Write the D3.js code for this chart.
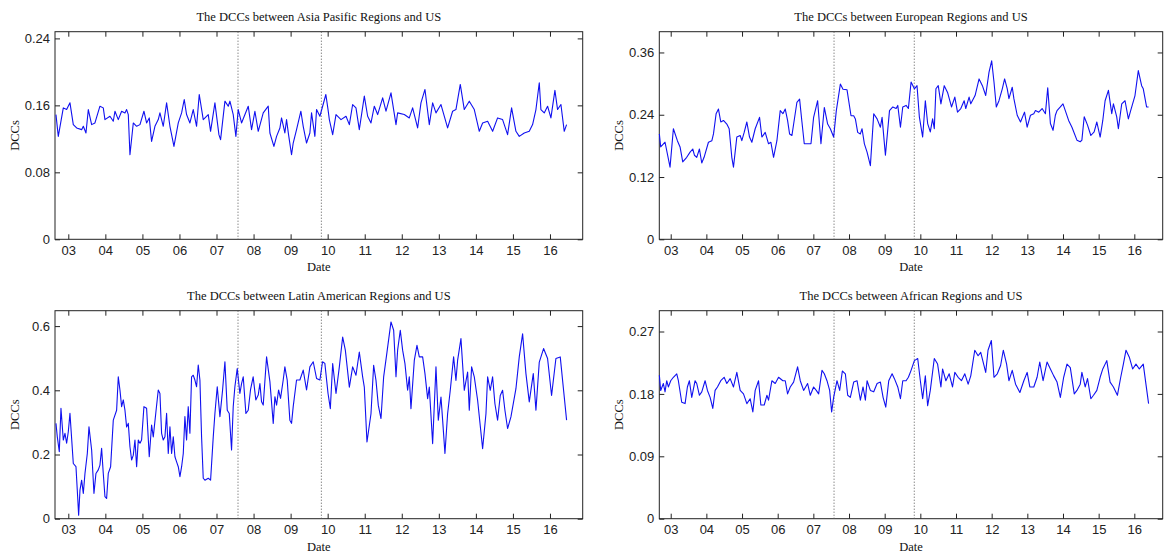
<!DOCTYPE html>
<html>
<head>
<meta charset="utf-8">
<title>DCCs between regions and US</title>
<style>
    body { margin: 0; background: white; }
    .frame { fill: none; stroke: #222; stroke-width: 1px; }
    .tick line { stroke: #222; stroke-width: 1px; }
    .tick text { font-family: "Liberation Sans", Arial, sans-serif; font-size: 13px; fill: #222; }
    .series { fill: none; stroke: #1010f0; stroke-width: 1.1px; stroke-linejoin: round; }
    .event { stroke: #555; stroke-width: 1px; stroke-dasharray: 1, 2; }
    .title, .axisLabel { font-family: "Liberation Serif", "Times New Roman", serif; font-size: 12.5px; fill: #111; text-anchor: middle; }
</style>
</head>
<body>
<script src="https://cdn.jsdelivr.net/npm/d3@7/dist/d3.min.js"></script>
<script>

    // shared axis data
    const xTicks = [3, 4, 5, 6, 7, 8, 9, 10, 11, 12, 13, 14, 15, 16];
    const xTickLabels = ["03", "04", "05", "06", "07", "08", "09", "10", "11", "12", "13", "14", "15", "16"];
    const eventDates = [7.58, 9.83];

    // Asia Pacific
    const asiaYears = [2.667, 2.730, 2.865, 2.955, 3.045, 3.135, 3.225, 3.360, 3.405, 3.477, 3.540, 3.630, 3.719, 3.854, 3.944, 3.989,
        4.124, 4.214, 4.259, 4.349, 4.439, 4.529, 4.574, 4.619, 4.664, 4.754, 4.844, 4.934, 5.041, 5.113, 5.185, 5.248, 5.338, 5.428,
        5.473, 5.563, 5.653, 5.743, 5.851, 5.968, 6.058, 6.129, 6.192, 6.282, 6.372, 6.462, 6.534, 6.642, 6.777, 6.840, 6.957, 7.065,
        7.110, 7.227, 7.317, 7.362, 7.451, 7.523, 7.586, 7.676, 7.856, 7.946, 8.036, 8.126, 8.261, 8.396, 8.441, 8.549, 8.621, 8.711,
        8.755, 8.845, 8.890, 8.944, 9.025, 9.070, 9.160, 9.277, 9.340, 9.430, 9.520, 9.565, 9.655, 9.700, 9.790, 9.951, 10.010,
        10.045, 10.135, 10.225, 10.360, 10.495, 10.585, 10.674, 10.764, 10.854, 10.989, 11.079, 11.169, 11.259, 11.349, 11.484, 11.574,
        11.709, 11.844, 11.888, 12.068, 12.203, 12.293, 12.428, 12.518, 12.626, 12.743, 12.833, 12.923, 13.058, 13.237, 13.372, 13.462,
        13.579, 13.687, 13.822, 13.957, 14.092, 14.182, 14.317, 14.452, 14.586, 14.721, 14.856, 14.964, 15.081, 15.171, 15.306, 15.441,
        15.531, 15.621, 15.711, 15.755, 15.845, 15.935, 16.025, 16.133, 16.205, 16.295, 16.385, 16.448];
    const asiaValues = [0.149, 0.123, 0.157, 0.155, 0.163, 0.137, 0.133, 0.131, 0.135, 0.127, 0.155, 0.137, 0.139, 0.159, 0.157, 0.143,
        0.147, 0.141, 0.153, 0.143, 0.153, 0.151, 0.155, 0.149, 0.101, 0.139, 0.135, 0.137, 0.153, 0.139, 0.145, 0.117, 0.135, 0.143,
        0.151, 0.135, 0.163, 0.135, 0.111, 0.139, 0.151, 0.167, 0.149, 0.139, 0.155, 0.135, 0.173, 0.143, 0.149, 0.129, 0.163, 0.125,
        0.119, 0.165, 0.159, 0.165, 0.149, 0.123, 0.155, 0.139, 0.159, 0.131, 0.153, 0.129, 0.151, 0.159, 0.127, 0.111, 0.123, 0.133,
        0.145, 0.127, 0.143, 0.125, 0.101, 0.115, 0.131, 0.153, 0.135, 0.115, 0.127, 0.151, 0.123, 0.155, 0.147, 0.173, 0.155,
        0.143, 0.125, 0.149, 0.143, 0.147, 0.137, 0.161, 0.157, 0.131, 0.171, 0.147, 0.139, 0.159, 0.149, 0.169, 0.153,
        0.175, 0.137, 0.151, 0.149, 0.145, 0.157, 0.133, 0.163, 0.179, 0.137, 0.163, 0.151, 0.161, 0.133, 0.153, 0.155,
        0.185, 0.155, 0.165, 0.155, 0.129, 0.139, 0.141, 0.129, 0.145, 0.143, 0.125, 0.157, 0.129, 0.123, 0.127, 0.129,
        0.137, 0.155, 0.187, 0.155, 0.151, 0.159, 0.145, 0.178, 0.155, 0.161, 0.129, 0.137];
    const asiaYTicks = [0, 0.08, 0.16, 0.24];
    const asiaYLabels = ["0", "0.08", "0.16", "0.24"];

    // European
    const europeYears = [2.682, 2.719, 2.841, 2.981, 3.075, 3.187, 3.262, 3.337, 3.449, 3.543, 3.618, 3.665, 3.730, 3.805, 3.871, 3.936,
        4.058, 4.154, 4.199, 4.273, 4.339, 4.404, 4.479, 4.573, 4.639, 4.713, 4.760, 4.854, 4.948, 4.994, 5.060, 5.135, 5.210, 5.275,
        5.369, 5.491, 5.556, 5.650, 5.743, 5.809, 5.884, 5.978, 6.071, 6.146, 6.212, 6.277, 6.333, 6.399, 6.539, 6.614, 6.680, 6.745,
        6.867, 6.933, 7.007, 7.120, 7.213, 7.307, 7.401, 7.476, 7.569, 7.644, 7.757, 7.831, 7.944, 8.056, 8.131, 8.178, 8.243, 8.318,
        8.365, 8.431, 8.506, 8.599, 8.693, 8.787, 8.880, 8.927, 9.021,
        9.135, 9.228, 9.321, 9.367, 9.442, 9.507, 9.600, 9.665, 9.740, 9.833, 9.907, 9.972, 10.065, 10.140, 10.205, 10.279, 10.344,
        10.391, 10.437, 10.502, 10.577, 10.670, 10.763, 10.874, 10.967, 11.042, 11.135, 11.228, 11.274, 11.367, 11.414, 11.535, 11.647,
        11.740, 11.833, 11.926, 12.000, 12.065, 12.130, 12.205, 12.298, 12.363, 12.437, 12.484, 12.577, 12.623, 12.716, 12.809, 12.921,
        12.995, 13.088, 13.181, 13.228, 13.321, 13.414, 13.507, 13.572, 13.647, 13.721, 13.786, 13.833, 13.926, 14.000, 14.065, 14.158,
        14.251, 14.391, 14.484, 14.530, 14.595, 14.688, 14.781, 14.874, 14.949, 15.042, 15.116, 15.181, 15.274, 15.367, 15.414, 15.507,
        15.553, 15.647, 15.740, 15.833, 15.898, 16.019, 16.112, 16.205, 16.251, 16.344, 16.400];
    const europeValues = [0.203, 0.178, 0.187, 0.139, 0.213, 0.190, 0.178, 0.149, 0.158, 0.168, 0.174, 0.162, 0.158, 0.174, 0.147, 0.158,
        0.187, 0.190, 0.203, 0.242, 0.251, 0.226, 0.229, 0.222, 0.213, 0.158, 0.139, 0.197, 0.200, 0.190, 0.206, 0.226, 0.197, 0.187,
        0.213, 0.235, 0.197, 0.206, 0.184, 0.187, 0.158, 0.190, 0.248, 0.242, 0.251, 0.229, 0.203, 0.200, 0.264, 0.270, 0.226, 0.184,
        0.184, 0.184, 0.235, 0.267, 0.184, 0.254, 0.222, 0.213, 0.197, 0.248, 0.299, 0.289, 0.288, 0.238, 0.238, 0.232, 0.206, 0.203,
        0.213, 0.184, 0.168, 0.142, 0.242, 0.232, 0.216, 0.235, 0.162,
        0.248, 0.255, 0.252, 0.258, 0.216, 0.255, 0.258, 0.252, 0.303, 0.290, 0.296, 0.236, 0.197, 0.267, 0.223, 0.207, 0.232,
        0.213, 0.290, 0.296, 0.261, 0.296, 0.283, 0.255, 0.274, 0.245, 0.252, 0.267, 0.252, 0.274, 0.261, 0.277, 0.309,
        0.296, 0.277, 0.322, 0.344, 0.303, 0.255, 0.267, 0.290, 0.309, 0.290, 0.271, 0.293, 0.271, 0.239, 0.226, 0.245,
        0.216, 0.239, 0.242, 0.248, 0.245, 0.252, 0.242, 0.292, 0.223, 0.210, 0.239, 0.248, 0.255, 0.261, 0.248, 0.229,
        0.216, 0.191, 0.188, 0.191, 0.236, 0.220, 0.200, 0.207, 0.226, 0.197, 0.229, 0.267, 0.287, 0.242, 0.261, 0.236,
        0.213, 0.261, 0.267, 0.232, 0.248, 0.277, 0.325, 0.296, 0.290, 0.255, 0.255];
    const europeYTicks = [0, 0.12, 0.24, 0.36];
    const europeYLabels = ["0", "0.12", "0.24", "0.36"];

    // Latin American
    const latinYears = [2.667, 2.703, 2.757, 2.802, 2.865, 2.910, 2.955, 3.000, 3.045, 3.135, 3.207, 3.252, 3.279, 3.315, 3.360, 3.405,
        3.450, 3.513, 3.558, 3.630, 3.692, 3.746, 3.809, 3.854, 3.899, 3.944, 3.989, 4.034, 4.079, 4.142, 4.214, 4.304, 4.349, 4.394,
        4.439, 4.484, 4.529, 4.574, 4.619, 4.664, 4.709, 4.754, 4.799, 4.844, 4.889, 4.934, 4.978, 5.041, 5.113, 5.185, 5.248, 5.293,
        5.365, 5.428, 5.473, 5.518, 5.563, 5.608, 5.653, 5.698, 5.743, 5.788, 5.833, 5.878, 5.923, 5.968, 6.013, 6.058, 6.103, 6.147,
        6.192, 6.237, 6.282, 6.327, 6.372, 6.417, 6.462, 6.507, 6.552, 6.597, 6.642, 6.687, 6.777, 6.840, 6.912, 6.957, 7.020, 7.092,
        7.164, 7.227, 7.290, 7.344, 7.406, 7.451, 7.496, 7.559, 7.631, 7.676, 7.721, 7.793, 7.856, 7.917, 7.989, 8.061, 8.126, 8.171,
        8.216, 8.261, 8.351, 8.441, 8.531, 8.576, 8.621, 8.675, 8.728, 8.800, 8.845, 8.908, 8.980, 9.025, 9.070, 9.160, 9.250, 9.340,
        9.430, 9.520, 9.610, 9.700, 9.790, 9.862, 9.924, 10.010,
        10.072, 10.135, 10.225, 10.315, 10.405, 10.477, 10.585, 10.674, 10.764, 10.854, 10.944, 10.989, 11.061, 11.169, 11.241, 11.304,
        11.367, 11.439, 11.511, 11.601, 11.709, 11.781, 11.844, 11.888, 11.960, 12.023, 12.086, 12.158, 12.203, 12.248, 12.338, 12.410,
        12.473, 12.563, 12.626, 12.698, 12.743, 12.833, 12.923, 12.986, 13.058, 13.103, 13.165, 13.237, 13.309, 13.399, 13.462, 13.507,
        13.597, 13.687, 13.777, 13.822, 13.885, 13.957, 14.047, 14.182, 14.272, 14.317, 14.388, 14.451, 14.514, 14.586, 14.658, 14.721,
        14.784, 14.856, 14.946, 15.081, 15.171, 15.261, 15.351, 15.441, 15.549, 15.621, 15.711, 15.827, 15.935, 16.043, 16.160, 16.277,
        16.367, 16.448];
    const latinValues = [0.297, 0.255, 0.209, 0.344, 0.245, 0.266, 0.235, 0.271, 0.328, 0.172, 0.162, 0.069, 0.011, 0.089, 0.120, 0.079,
        0.141, 0.203, 0.286, 0.214, 0.079, 0.141, 0.152, 0.167, 0.219, 0.141, 0.069, 0.063, 0.141, 0.162, 0.307, 0.338, 0.442, 0.401,
        0.349, 0.370, 0.338, 0.286, 0.297, 0.224, 0.183, 0.198, 0.245, 0.162, 0.245, 0.235, 0.245, 0.349, 0.344, 0.193, 0.292, 0.255,
        0.333, 0.401, 0.390, 0.266, 0.245, 0.255, 0.328, 0.203, 0.286, 0.203, 0.255, 0.193, 0.177, 0.162, 0.131, 0.162, 0.203, 0.318,
        0.245, 0.349, 0.266, 0.442, 0.447, 0.432, 0.411, 0.479, 0.432, 0.255, 0.126, 0.120, 0.126, 0.120, 0.255, 0.328, 0.411, 0.318,
        0.401, 0.489, 0.338, 0.328, 0.214, 0.349, 0.411, 0.468, 0.390, 0.421, 0.442, 0.328, 0.338, 0.401, 0.442, 0.370, 0.385, 0.421,
        0.364, 0.354, 0.504, 0.427, 0.297, 0.380, 0.354, 0.401, 0.375, 0.432, 0.473, 0.432, 0.307, 0.297, 0.349, 0.432, 0.432, 0.463,
        0.401, 0.473, 0.489, 0.437, 0.432, 0.489, 0.484, 0.390,
        0.343, 0.483, 0.390, 0.473, 0.566, 0.525, 0.410, 0.473, 0.447, 0.519, 0.442, 0.410, 0.239, 0.327, 0.478, 0.431,
        0.353, 0.312, 0.442, 0.519, 0.613, 0.587, 0.442, 0.525, 0.587, 0.525, 0.483, 0.400, 0.442, 0.343, 0.493, 0.540,
        0.504, 0.504, 0.452, 0.374, 0.410, 0.234, 0.473, 0.307, 0.379, 0.307, 0.203, 0.327, 0.400, 0.504, 0.431, 0.493,
        0.561, 0.400, 0.457, 0.338, 0.473, 0.442, 0.369, 0.218, 0.327, 0.442, 0.400, 0.442, 0.358, 0.307, 0.384, 0.400,
        0.338, 0.281, 0.317, 0.405, 0.504, 0.576, 0.452, 0.364, 0.452, 0.338, 0.488, 0.530, 0.499, 0.384, 0.499, 0.504,
        0.400, 0.307];
    const latinYTicks = [0, 0.2, 0.4, 0.6];
    const latinYLabels = ["0", "0.2", "0.4", "0.6"];

    // African
    const africaYears = [2.682, 2.719, 2.794, 2.841, 2.888, 2.934, 3.000, 3.075, 3.169, 3.215, 3.309, 3.403, 3.468, 3.524, 3.590, 3.684,
        3.730, 3.805, 3.871, 3.964, 4.030, 4.105, 4.180, 4.245, 4.311, 4.404, 4.498, 4.573, 4.667, 4.760, 4.854, 4.948, 5.041, 5.135,
        5.228, 5.303, 5.369, 5.463, 5.528, 5.622, 5.697, 5.743, 5.837, 5.931, 6.024, 6.146, 6.212, 6.277, 6.352, 6.446, 6.558, 6.633,
        6.727, 6.839, 6.914, 7.007, 7.082, 7.148, 7.242, 7.307, 7.382, 7.457, 7.513, 7.569, 7.663, 7.738, 7.813, 7.897, 7.963, 8.037,
        8.131, 8.225, 8.318, 8.393, 8.459, 8.506, 8.599, 8.693, 8.787, 8.880, 8.955, 9.030, 9.114, 9.208, 9.273, 9.367, 9.442,
        9.507, 9.600, 9.665, 9.740, 9.833, 9.926, 10.000, 10.065, 10.140, 10.205, 10.279, 10.391, 10.484, 10.577, 10.623, 10.716,
        10.809, 10.902, 10.967, 11.060, 11.153, 11.247, 11.340, 11.414, 11.526, 11.619, 11.693, 11.833, 11.898, 11.991, 12.065, 12.158,
        12.251, 12.326, 12.419, 12.484, 12.577, 12.670, 12.791, 12.902, 12.995, 13.070, 13.181, 13.274, 13.349, 13.442, 13.553, 13.647,
        13.740, 13.833, 13.926, 14.019, 14.112, 14.205, 14.316, 14.391, 14.484, 14.530, 14.623, 14.688, 14.781, 14.856, 14.949, 15.042,
        15.116, 15.228, 15.321, 15.414, 15.526, 15.619, 15.693, 15.767, 15.860, 15.953, 16.047, 16.140, 16.251, 16.326, 16.400];
    const africaValues = [0.207, 0.185, 0.195, 0.183, 0.199, 0.190, 0.199, 0.204, 0.209, 0.199, 0.168, 0.166, 0.190, 0.199, 0.175, 0.199,
        0.195, 0.178, 0.183, 0.199, 0.185, 0.175, 0.159, 0.185, 0.190, 0.199, 0.204, 0.195, 0.202, 0.190, 0.211, 0.185, 0.180, 0.166,
        0.173, 0.154, 0.185, 0.199, 0.164, 0.164, 0.178, 0.171, 0.199, 0.195, 0.204, 0.199, 0.199, 0.180, 0.190, 0.197, 0.219, 0.199,
        0.185, 0.195, 0.178, 0.190, 0.185, 0.180, 0.214, 0.209, 0.199, 0.185, 0.154, 0.175, 0.199, 0.185, 0.213, 0.209, 0.178, 0.175,
        0.197, 0.199, 0.171, 0.190, 0.171, 0.199, 0.185, 0.183, 0.195, 0.197, 0.175, 0.161, 0.199, 0.209, 0.202, 0.190, 0.173,
        0.199, 0.199, 0.204, 0.214, 0.228, 0.231, 0.199, 0.173, 0.206, 0.163, 0.185, 0.231, 0.223, 0.190, 0.216, 0.199,
        0.209, 0.190, 0.211, 0.204, 0.199, 0.209, 0.194, 0.206, 0.243, 0.235, 0.240, 0.211, 0.243, 0.257, 0.204, 0.209,
        0.221, 0.243, 0.223, 0.199, 0.214, 0.194, 0.182, 0.199, 0.211, 0.190, 0.190, 0.204, 0.226, 0.199, 0.226, 0.216,
        0.206, 0.197, 0.175, 0.204, 0.223, 0.218, 0.180, 0.185, 0.194, 0.211, 0.190, 0.202, 0.173, 0.178, 0.185, 0.204,
        0.216, 0.228, 0.197, 0.190, 0.178, 0.204, 0.223, 0.243, 0.233, 0.216, 0.223, 0.216, 0.223, 0.194, 0.166];
    const africaYTicks = [0, 0.09, 0.18, 0.27];
    const africaYLabels = ["0", "0.09", "0.18", "0.27"];

    const panels = [
        {title: "The DCCs between Asia Pasific Regions and US", years: asiaYears, values: asiaValues,
            yMax: 0.248, yTicks: asiaYTicks, yLabels: asiaYLabels, left: 55, top: 31.7, right: 582.7, bottom: 239.3, xDomain: [2.641, 16.883]},
        {title: "The DCCs between European Regions and US", years: europeYears, values: europeValues,
            yMax: 0.40, yTicks: europeYTicks, yLabels: europeYLabels, left: 659.3, top: 31.7, right: 1162.7, bottom: 239.3, xDomain: [2.680, 16.796]},
        {title: "The DCCs between Latin American Regions and US", years: latinYears, values: latinValues,
            yMax: 0.648, yTicks: latinYTicks, yLabels: latinYLabels, left: 55, top: 310.7, right: 582.7, bottom: 518.7, xDomain: [2.641, 16.883]},
        {title: "The DCCs between African Regions and US", years: africaYears, values: africaValues,
            yMax: 0.30, yTicks: africaYTicks, yLabels: africaYLabels, left: 659.3, top: 310.7, right: 1162.7, bottom: 518.7, xDomain: [2.680, 16.796]}
    ];

    const svg = d3.select("body").append("svg").attr("width", 1164).attr("height", 554);

    panels.forEach(function (p) {
        const x = d3.scaleLinear().domain(p.xDomain).range([p.left, p.right]);
        const y = d3.scaleLinear().domain([0, p.yMax]).range([p.bottom, p.top]);
        const g = svg.append("g");

        // inward ticks on all four sides, MATLAB style
        g.append("g").attr("transform", "translate(0," + p.bottom + ")")
            .call(d3.axisBottom(x).tickValues(xTicks).tickSize(-5).tickPadding(6)
                .tickFormat((d, i) => xTickLabels[i]));
        g.append("g").attr("transform", "translate(0," + p.top + ")")
            .call(d3.axisTop(x).tickValues(xTicks).tickSize(-5).tickFormat(""));
        g.append("g").attr("transform", "translate(" + p.left + ",0)")
            .call(d3.axisLeft(y).tickValues(p.yTicks).tickSize(-5).tickPadding(5)
                .tickFormat((d, i) => p.yLabels[i]));
        g.append("g").attr("transform", "translate(" + p.right + ",0)")
            .call(d3.axisRight(y).tickValues(p.yTicks).tickSize(-5).tickFormat(""));
        g.selectAll(".domain").remove();

        g.append("rect").attr("class", "frame")
            .attr("x", p.left).attr("y", p.top)
            .attr("width", p.right - p.left).attr("height", p.bottom - p.top);

        g.selectAll(".event")
            .data(eventDates)
            .enter().append("line")
            .attr("class", "event")
            .attr("x1", d => x(d)).attr("x2", d => x(d))
            .attr("y1", p.top).attr("y2", p.bottom);

        const line = d3.line().x(d => x(d[0])).y(d => y(d[1]));
        g.append("path").attr("class", "series")
            .attr("d", line(d3.zip(p.years, p.values)));

        g.append("text").attr("class", "title")
            .attr("x", (p.left + p.right) / 2).attr("y", p.top - 11)
            .text(p.title);
        g.append("text").attr("class", "axisLabel")
            .attr("x", (p.left + p.right) / 2).attr("y", p.bottom + 32)
            .text("Date");
        g.append("text").attr("class", "axisLabel")
            .attr("transform", "translate(" + (p.left - 36) + "," + ((p.top + p.bottom) / 2) + ") rotate(-90)")
            .text("DCCs");
    });

</script>
</body>
</html>
